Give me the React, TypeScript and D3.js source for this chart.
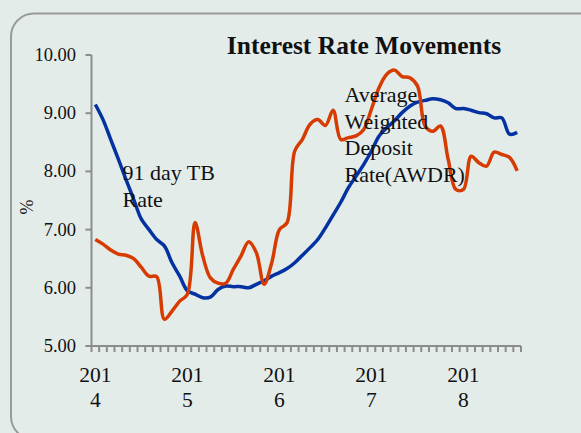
import React, { useEffect, useRef } from 'react';
import * as d3 from 'd3';

// monthly, Jan 2014 .. Aug 2018
const tbRate = [
  9.15, 8.89, 8.55, 8.21, 7.86, 7.52, 7.18, 7.0, 6.83, 6.72, 6.43, 6.2,
  5.95, 5.89, 5.83, 5.84, 5.97, 6.03, 6.02, 6.02, 6.0, 6.06, 6.12, 6.2,
  6.26, 6.33, 6.43, 6.56, 6.69, 6.83, 7.03, 7.25, 7.47, 7.72, 7.92, 8.12,
  8.35, 8.61, 8.75, 8.87, 9.01, 9.12, 9.19, 9.22, 9.25, 9.23, 9.18, 9.08,
  9.08, 9.05, 9.01, 8.99, 8.92, 8.92, 8.64, 8.67,
];
const awdr = [
  6.83, 6.75, 6.65, 6.58, 6.56, 6.5, 6.35, 6.2, 6.19, 5.46, 5.6, 5.77,
  5.89, 7.12, 6.55, 6.17, 6.08, 6.08, 6.32, 6.55, 6.79, 6.6, 6.06, 6.43,
  7.0, 7.12, 8.35, 8.55, 8.81, 8.89, 8.79, 9.05, 8.55, 8.58, 8.61, 8.72,
  9.07, 9.44, 9.67, 9.74, 9.63, 9.61, 9.47, 8.78, 8.69, 8.78, 8.21, 7.69,
  7.69, 8.26, 8.15, 8.09, 8.33, 8.29, 8.24, 8.01,
];
const years = ['2014', '2015', '2016', '2017', '2018'];
const yTicks = [5, 6, 7, 8, 9, 10];

const W = 581;
const H = 433;
const FONT = '"Palatino Linotype", "Book Antiqua", "Liberation Serif", serif';

const App: React.FC = () => {
  const svgRef = useRef<SVGSVGElement>(null);

  useEffect(() => {
    if (!svgRef.current) return;
    const svg = d3.select(svgRef.current);
    svg.selectAll('*').remove();

    const left = 91.5;
    const right = 521;
    const top = 55;
    const bottom = 346;
    const n = tbRate.length;

    svg.append('rect').attr('width', W).attr('height', H).attr('fill', '#e4ecea');
    svg.append('rect')
      .attr('x', 11).attr('y', 13.5)
      .attr('width', 640).attr('height', 426)
      .attr('rx', 23)
      .attr('fill', 'none')
      .attr('stroke', '#9a9a9a')
      .attr('stroke-width', 2);

    const x = d3.scaleLinear().domain([0, n]).range([left, right]);
    const xc = (i: number) => x(i + 0.5);
    const y = d3.scaleLinear().domain([5, 10]).range([bottom, top]);

    const axisColor = '#8c8c8c';

    // y axis
    svg.append('line')
      .attr('x1', left).attr('x2', left)
      .attr('y1', top).attr('y2', bottom + 6)
      .attr('stroke', axisColor).attr('stroke-width', 2);
    yTicks.forEach(t => {
      svg.append('line')
        .attr('x1', left - 6).attr('x2', left)
        .attr('y1', y(t)).attr('y2', y(t))
        .attr('stroke', axisColor).attr('stroke-width', 2);
      svg.append('text')
        .attr('x', 76).attr('y', y(t) + 6)
        .attr('text-anchor', 'end')
        .attr('font-family', FONT).attr('font-size', 18.5)
        .attr('fill', '#111')
        .text(t.toFixed(2));
    });

    // x axis
    svg.append('line')
      .attr('x1', left - 6).attr('x2', right)
      .attr('y1', bottom).attr('y2', bottom)
      .attr('stroke', axisColor).attr('stroke-width', 2);
    d3.range(1, n + 1).forEach(i => {
      svg.append('line')
        .attr('x1', x(i)).attr('x2', x(i))
        .attr('y1', bottom).attr('y2', bottom + 6)
        .attr('stroke', axisColor).attr('stroke-width', 2);
    });
    years.forEach((yr, k) => {
      const t = svg.append('text')
        .attr('text-anchor', 'middle')
        .attr('font-family', FONT).attr('font-size', 21.5)
        .attr('fill', '#111');
      t.append('tspan').attr('x', xc(k * 12)).attr('y', 382).text(yr.slice(0, 3));
      t.append('tspan').attr('x', xc(k * 12)).attr('y', 407).text(yr.slice(3));
    });

    const line = d3.line<number>()
      .x((_, i) => xc(i))
      .y(d => y(d))
      .curve(d3.curveCatmullRom.alpha(0.5));

    svg.append('path')
      .datum(tbRate)
      .attr('fill', 'none')
      .attr('stroke', '#0433a1')
      .attr('stroke-width', 3.5)
      .attr('d', line);

    svg.append('path')
      .datum(awdr)
      .attr('fill', 'none')
      .attr('stroke', '#d63c02')
      .attr('stroke-width', 3.5)
      .attr('d', line);

    // title
    svg.append('text')
      .attr('x', 364).attr('y', 54)
      .attr('text-anchor', 'middle')
      .attr('font-family', FONT).attr('font-size', 25.5)
      .attr('font-weight', 'bold')
      .attr('fill', '#111')
      .text('Interest Rate Movements');

    // y title
    svg.append('text')
      .attr('transform', 'translate(33,207) rotate(-90)')
      .attr('text-anchor', 'middle')
      .attr('font-family', FONT).attr('font-size', 18)
      .attr('fill', '#111')
      .text('%');

    // series labels
    const label = (lines: string[], lx: number, ly: number) => {
      const t = svg.append('text')
        .attr('font-family', FONT).attr('font-size', 22)
        .attr('fill', '#111');
      lines.forEach((s, k) => {
        t.append('tspan').attr('x', lx).attr('y', ly + k * 26.7).text(s);
      });
    };
    label(['91 day TB', 'Rate'], 122.5, 180);
    label(['Average', 'Weighted', 'Deposit', 'Rate(AWDR)'], 344.5, 102);
  }, []);

  return (
    <svg
      ref={svgRef}
      width={W}
      height={H}
      style={{ position: 'absolute', left: 0, top: 0, display: 'block' }}
    />
  );
};

export default App;
